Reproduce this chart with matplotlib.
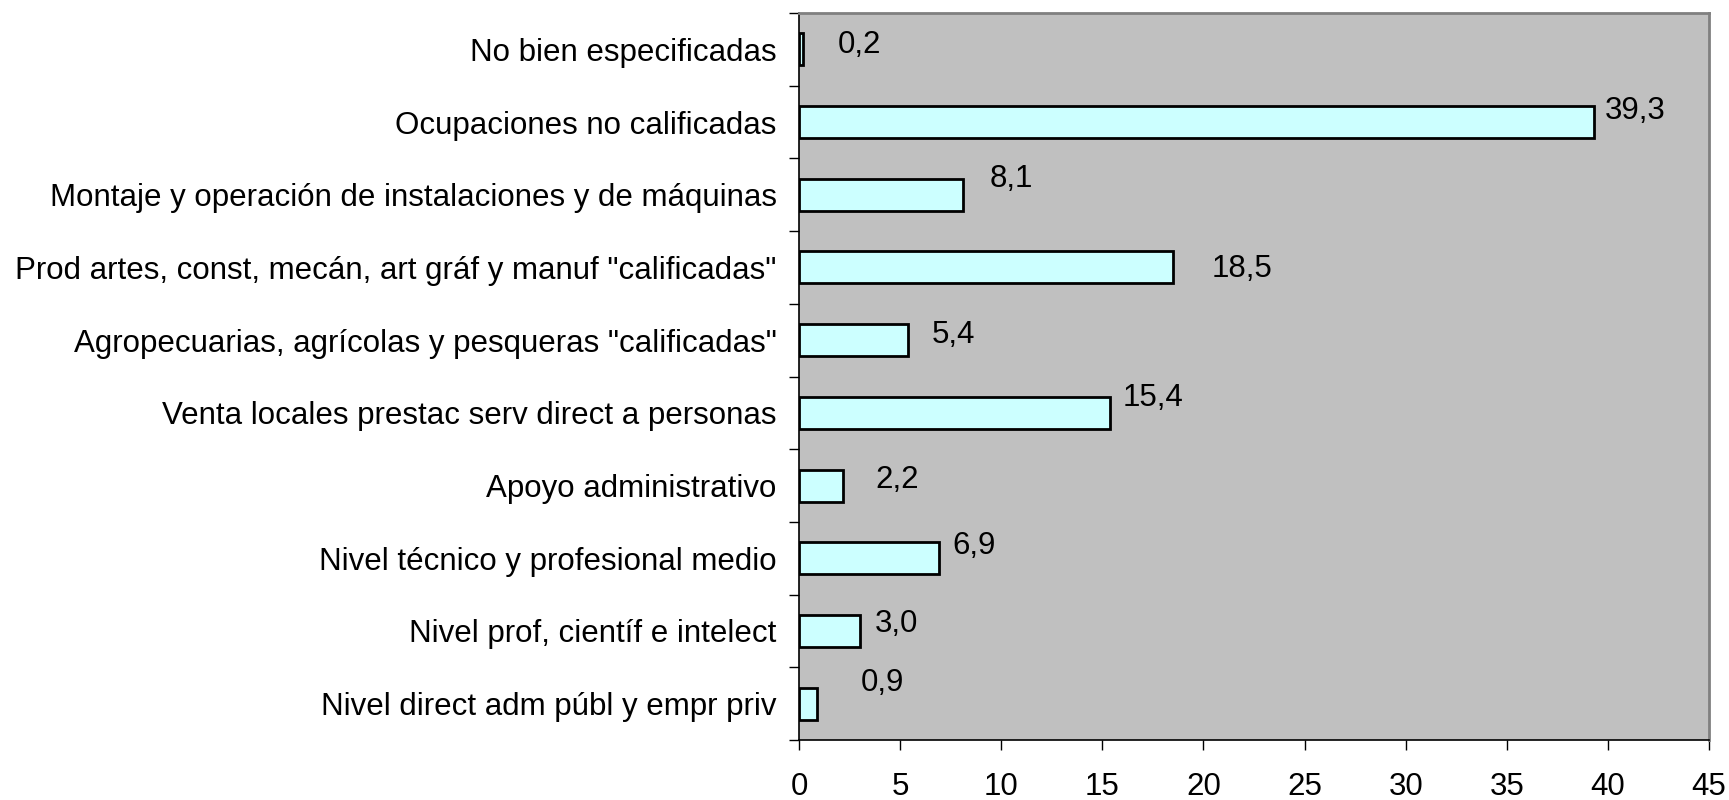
import matplotlib
matplotlib.use("Agg")
import matplotlib.pyplot as plt
import numpy as np
from matplotlib.ticker import FixedLocator

categories = [
    "Nivel direct adm públ y empr priv",
    "Nivel prof, científ e intelect",
    "Nivel técnico y profesional medio",
    "Apoyo administrativo",
    "Venta locales prestac serv direct a personas",
    "Agropecuarias, agrícolas y pesqueras \"calificadas\"",
    "Prod artes, const, mecán, art gráf y manuf \"calificadas\"",
    "Montaje y operación de instalaciones y de máquinas",
    "Ocupaciones no calificadas",
    "No bien especificadas",
]
values = [0.9, 3.0, 6.9, 2.2, 15.4, 5.4, 18.5, 8.1, 39.3, 0.2]
value_labels = ["0,9", "3,0", "6,9", "2,2", "15,4", "5,4", "18,5", "8,1", "39,3", "0,2"]
x_ticks = [0, 5, 10, 15, 20, 25, 30, 35, 40, 45]

# label offsets in points (dx, dy) from bar end / bar center (Excel-like placement)
label_offsets = [(31, 15), (11, 5), (10, 9), (23, 4), (9, 11), (17, 4), (28, -1), (19, 11), (8, 8), (25, 3)]

plt.rcParams['font.family'] = ['Liberation Sans', 'DejaVu Sans']
fs = 22.5

fig = plt.figure(figsize=(17.29, 8.0), dpi=100)
ax = fig.add_axes([799/1729, 1 - 740/800, (1709-799)/1729, (740-13)/800])
ax.set_facecolor('#C0C0C0')

y = np.arange(len(categories))
ax.barh(y, values, height=0.44, color='#CCFFFF', edgecolor='black', linewidth=2.0, zorder=3)

for yi, v, lab, (dx, dy) in zip(y, values, value_labels, label_offsets):
    ax.annotate(lab, xy=(v, yi), xytext=(dx, dy), textcoords='offset points',
                ha='left', va='center', fontsize=fs, color='black', zorder=4)

ax.set_xlim(0, 45)
ax.set_ylim(-0.5, len(categories) - 0.5)
ax.set_xticks(x_ticks)
ax.set_xticklabels([str(t) for t in x_ticks], fontsize=fs)
ax.set_yticks(y)
ax.set_yticklabels(categories, fontsize=fs)
ax.yaxis.set_minor_locator(FixedLocator(np.arange(-0.5, len(categories), 1.0)))
ax.tick_params(axis='y', which='major', length=0, pad=16)
ax.tick_params(axis='y', which='minor', length=7, width=1, color='black', direction='out')
ax.tick_params(axis='x', which='major', length=7, width=1, color='black', direction='out', pad=16)

ax.spines['left'].set_color('black')
ax.spines['left'].set_linewidth(1.2)
ax.spines['bottom'].set_color('black')
ax.spines['bottom'].set_linewidth(1.2)
ax.spines['top'].set_color('#808080')
ax.spines['top'].set_linewidth(2)
ax.spines['right'].set_color('#808080')
ax.spines['right'].set_linewidth(2)

fig.savefig('out.png', dpi=100, facecolor='white')
